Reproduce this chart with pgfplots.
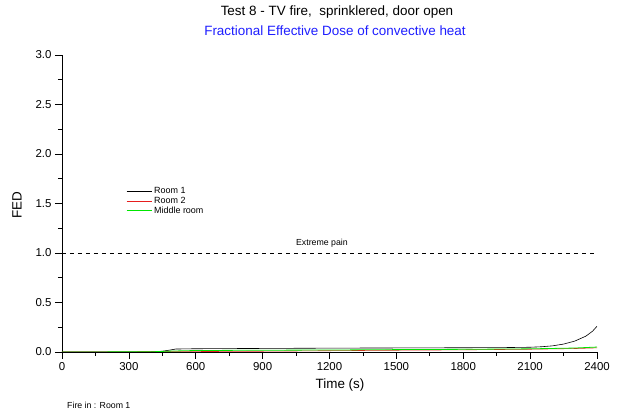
\documentclass[border=0pt]{standalone}
\usepackage{pgfplots}
\pgfplotsset{compat=1.18}
\usepackage{fontspec}
\setmainfont{Liberation Sans}
\definecolor{titleblue}{RGB}{30,30,255}
\definecolor{fedgreen}{RGB}{0,230,0}
\definecolor{fedred}{RGB}{230,30,30}
\begin{document}
\begin{tikzpicture}[x=1bp,y=1bp]
\path (-62bp,-64bp) rectangle (555bp,352bp);
\begin{axis}[
  scale only axis,
  width=535bp, height=297bp,
  xmin=0, xmax=2400, ymin=0, ymax=3,
  axis x line*=bottom, axis y line*=left,
  axis line style={line width=0.8pt,-},
  xtick={0,300,...,2400},
  minor xtick={150,450,...,2250},
  ytick={0,0.5,...,3},
  minor ytick={0.25,0.75,...,2.75},
  yticklabel style={/pgf/number format/.cd,fixed,fixed zerofill,precision=1},
  xticklabel style={/pgf/number format/.cd,1000 sep={}},
  /pgf/number format/assume math mode=true,
  tick align=outside,
  major tick length=7bp, minor tick length=4bp,
  tick style={line width=0.7pt,black},
  ticklabel style={font=\fontsize{11.5}{13}\selectfont},
  legend style={at={(0.118,0.565)},anchor=north west,draw=none,fill=none,
    font=\fontsize{9}{10}\selectfont, row sep=-2pt, inner sep=1pt},
  legend cell align=left,
  legend image code/.code={\draw[#1] (0bp,0bp) -- (25bp,0bp);},
]
\addplot[black, line width=0.6pt] coordinates {
(0,0) (300,0) (400,0.002) (450,0.008) (480,0.018) (510,0.03) (600,0.033) (900,0.036)
(1200,0.039) (1500,0.041) (1800,0.043) (2000,0.045) (2100,0.048) (2150,0.053)
(2200,0.062) (2250,0.08) (2300,0.11) (2350,0.16) (2380,0.21) (2400,0.26)};
\addlegendentry{Room 1}
\addplot[fedred, line width=0.6pt] coordinates {
(0,0) (500,0.003) (900,0.008) (1200,0.013) (1500,0.018) (1800,0.022) (2100,0.028)
(2300,0.035) (2400,0.042)};
\addlegendentry{Room 2}
\addplot[fedgreen, line width=0.8pt] coordinates {
(0,0) (400,0.002) (500,0.01) (600,0.015) (900,0.018) (1200,0.02) (1500,0.024)
(1800,0.027) (2100,0.032) (2300,0.04) (2400,0.05)};
\addlegendentry{Middle room}
\addplot[black, dashed, dash pattern=on 4bp off 4bp, line width=0.5pt, forget plot] coordinates {(0,1) (2400,1)};
\node[font=\fontsize{8.8}{10}\selectfont] at (axis cs:1166,1.10) {Extreme pain};
\end{axis}
\node[font=\fontsize{13.5}{15}\selectfont] at (275bp,340bp) {Test 8 - TV fire,\ \ sprinklered, door open};
\node[font=\fontsize{13.5}{15}\selectfont, text=titleblue] at (273bp,321bp) {Fractional Effective Dose of convective heat};
\node[font=\fontsize{13.5}{15}\selectfont] at (278bp,-33bp) {Time (s)};
\node[font=\fontsize{13.5}{15}\selectfont, rotate=90] at (-45bp,147bp) {FED};
\node[font=\fontsize{8.8}{10}\selectfont, anchor=west, inner sep=0pt] at (5bp,-53bp) {Fire in : Room 1};
\end{tikzpicture}
\end{document}
